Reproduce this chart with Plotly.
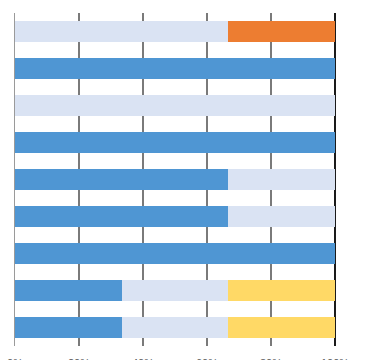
import plotly.graph_objects as go

# Nine survey items, shares of responses (fractions of 100%)
items = ["項目1", "項目2", "項目3", "項目4", "項目5", "項目6", "項目7", "項目8", "項目9"]
blue_vals = [0, 100, 0, 100, 66.67, 66.67, 100, 33.33, 33.33]
light_vals = [66.67, 0, 100, 0, 33.33, 33.33, 0, 33.33, 33.33]
orange_vals = [33.33, 0, 0, 0, 0, 0, 0, 0, 0]
yellow_vals = [0, 0, 0, 0, 0, 0, 0, 33.33, 33.33]
tick_vals = [0, 20, 40, 60, 80, 100]
tick_text = ["0%", "20%", "40%", "60%", "80%", "100%"]

series = [
    ("A", blue_vals, "#4F96D3"),
    ("B", light_vals, "#DAE3F3"),
    ("C", orange_vals, "#ED7D31"),
    ("D", yellow_vals, "#FFD966"),
]

fig = go.Figure()
for name, vals, color in series:
    fig.add_trace(go.Bar(
        y=items, x=vals, name=name, orientation="h",
        marker=dict(color=color, line=dict(width=0)),
        hoverinfo="x+y",
    ))

fig.update_layout(
    barmode="stack",
    bargap=0.43,
    width=366, height=376,
    margin=dict(l=15, r=31, t=13, b=30),
    paper_bgcolor="white", plot_bgcolor="white",
    showlegend=False,
    xaxis=dict(
        range=[0, 100], tickvals=tick_vals, ticktext=tick_text,
        showgrid=True, gridcolor="#7a7a7a", gridwidth=2,
        zeroline=False, showline=False, ticks="",
        ticklabelstandoff=9, automargin=False,
        tickfont=dict(family="Liberation Sans, Arial", size=11, color="#595959"),
    ),
    yaxis=dict(
        autorange="reversed", showticklabels=False, showgrid=False,
        zeroline=False, showline=True, linecolor="#9a9a9a", linewidth=1,
        ticks="", automargin=False,
    ),
)

# right-hand frame edge
fig.add_shape(type="line", xref="x domain", yref="y domain",
              x0=1, x1=1, y0=0, y1=1,
              line=dict(color="#1a1a1a", width=2), layer="below")

fig.write_html("out.html")
